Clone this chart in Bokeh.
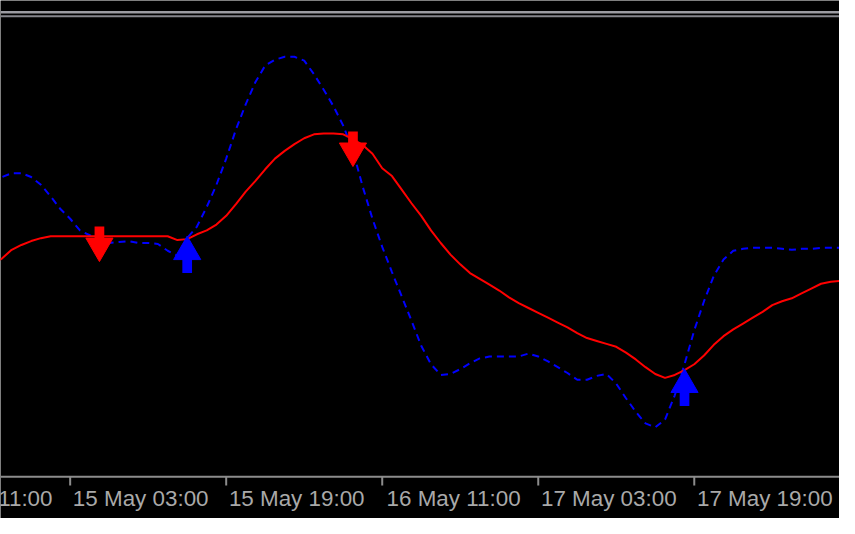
import pandas as pd
from bokeh.plotting import figure
from bokeh.models import Range1d, Span
from bokeh.core.properties import value
from bokeh.embed import file_html
from bokeh.resources import INLINE

# ---- data (hourly bars, hour offsets from 15 May 03:00) ----
bar_hours = list(range(-8, 80))
slow_line = [219, 225, 234, 239, 243, 246, 248, 248, 248, 248, 248, 248, 248, 248, 248, 248, 248, 248,
             248, 244, 245, 250, 254, 260, 269, 281, 294, 305, 317, 328, 336, 343, 349, 353, 354, 354,
             353, 348, 342, 333, 318, 310, 296, 282, 269, 254, 241, 229, 219, 210, 204, 198, 192, 185,
             179, 174, 169, 164, 159, 154, 148, 143, 140, 137, 134, 128, 121, 113, 106, 102, 105, 110,
             116, 125, 136, 145, 152, 158, 164, 170, 177, 181, 184, 189, 194, 199, 201, 202]
fast_line = [303, 309, 313, 313, 309, 301, 289, 276, 266, 254, 249, 244, 241, 242, 243, 241, 241, 240,
             233, 228, 246, 258, 278, 301, 328, 358, 384, 407, 424, 430, 433, 433, 429, 415, 399, 382,
             362, 336, 299, 266, 237, 211, 186, 161, 135, 116, 105, 106, 111, 117, 122, 124, 124, 124,
             124, 127, 124, 119, 113, 107, 100, 100, 104, 106, 96, 81, 67, 55, 51, 59, 84, 116,
             151, 181, 207, 224, 233, 235, 236, 236, 236, 235, 234, 235, 235, 236, 236, 236]
sell_hours = [3, 29]
sell_levels = [258, 356]
buy_hours = [12, 63]
buy_levels = [248, 111]
tick_hours = [-16, 0, 16, 32, 48, 64]
tick_labels = ["14 May 11:00", "15 May 03:00", "15 May 19:00",
               "16 May 11:00", "17 May 03:00", "17 May 19:00"]

base = pd.Timestamp("2013-05-15 03:00")


def ms(h):
    return (base + pd.Timedelta(hours=h)).value / 1e6


xs = [ms(h) for h in bar_hours]

# the whole 855x534 view is fitted into the 839x518 figure
W, H = 839, 518
HOUR_UNITS = 9.9375            # view units per hour
start_h = -71 / HOUR_UNITS
end_h = (855 - 71) / HOUR_UNITS
S = H / 534                    # screen px per view unit

FONT_PX = 22.4
LABEL_SPAN = 141               # view units from a tick to the right end of its label

AXIS_COL = "#8c8c8c"

p = figure(width=W, height=H, x_axis_type="datetime",
           x_axis_location=None, y_axis_location=None,
           output_backend="svg", toolbar_location=None,
           x_range=Range1d(ms(start_h), ms(end_h)), y_range=Range1d(-43, 491),
           min_border=0,
           background_fill_color="#000000", border_fill_color="#000000",
           outline_line_color=None)
p.grid.visible = False

# window separator lines at the top
p.add_layout(Span(location=479, dimension="width", line_color="#9c9ca2", line_width=2.5))
p.add_layout(Span(location=474.7, dimension="width", line_color="#86868c", line_width=2))

# time axis (MT4 style: ticks hanging down, labels to the right of each tick)
p.add_layout(Span(location=0, dimension="width", line_color=AXIS_COL, line_width=2))
tick_x = [ms(h) for h in tick_hours]
p.segment(x0=tick_x, y0=[0] * len(tick_x), x1=tick_x, y1=[-9] * len(tick_x),
          line_color=AXIS_COL, line_width=2)
label_right = [ms(h + LABEL_SPAN / HOUR_UNITS) for h in tick_hours]
p.text(x=label_right, y=[-22.5] * len(tick_labels), text=tick_labels,
       text_align="right", text_baseline="middle",
       text_font=value("Liberation Sans"), text_font_size=f"{FONT_PX}px",
       text_color="#a9a9a9")

p.line(xs, fast_line, line_color="#0000ff", line_width=2, line_dash="7 5")
p.line(xs, slow_line, line_color="#ff0000", line_width=2)

# sell arrows (down)
sx = [ms(h) for h in sell_hours]
p.rect(sx, [v - 7.5 for v in sell_levels], width=10 * S, height=15 * S,
       width_units="screen", height_units="screen", fill_color="#ff0000", line_color=None)
p.scatter(sx, [v - 20 for v in sell_levels], marker="inverted_triangle", size=28 * S,
          fill_color="#ff0000", line_color="#ff0000", line_width=1)
# buy arrows (up)
bx = [ms(h) for h in buy_hours]
p.rect(bx, [v - 29 for v in buy_levels], width=10 * S, height=18 * S,
       width_units="screen", height_units="screen", fill_color="#0000ff", line_color=None)
p.scatter(bx, [v - 16 for v in buy_levels], marker="triangle", size=28 * S,
          fill_color="#0000ff", line_color="#0000ff", line_width=1)

open("out.html", "w").write(file_html(p, INLINE))
